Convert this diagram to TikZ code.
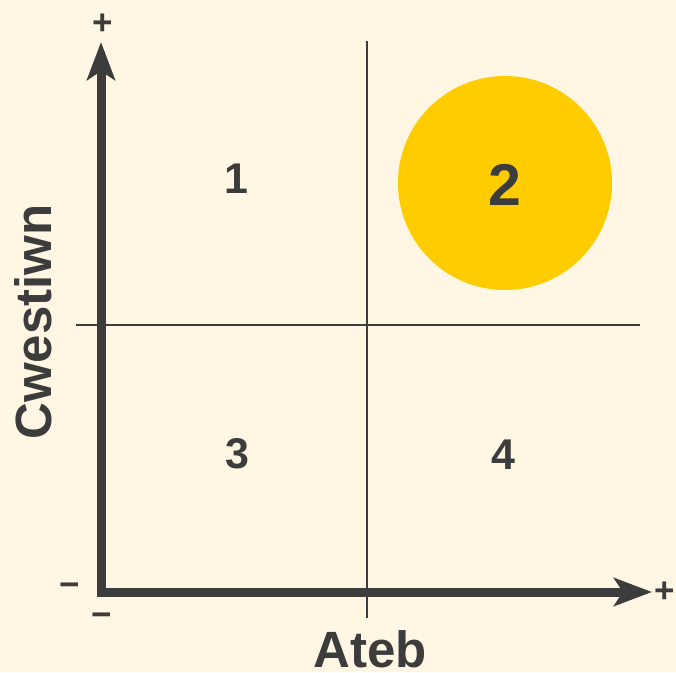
\documentclass[tikz,border=0pt]{standalone}
\usepackage{fontspec}
\setmainfont{Liberation Sans}
\usetikzlibrary{arrows.meta}
\definecolor{bgcream}{HTML}{FFF6E3}
\definecolor{ink}{HTML}{3C3C3C}
\definecolor{sun}{HTML}{FFCC00}

\begin{document}
\begin{tikzpicture}[x=1pt,y=-1pt,line join=miter,
    axislabel/.style={font=\fontsize{51}{51}\selectfont\bfseries,text=ink,inner sep=0pt,anchor=base},
    quadnum/.style={font=\fontsize{43}{43}\selectfont\bfseries,text=ink,inner sep=0pt,anchor=base},
    signmark/.style={font=\fontsize{35}{35}\selectfont\bfseries,text=ink,inner sep=0pt}]
  \useasboundingbox[fill=bgcream] (0,0) rectangle (676,672);
  \coordinate (O) at (101,592);
  \coordinate (Y) at (101,42);
  \coordinate (X) at (652,592);
  \coordinate (T) at (367,41);
  \coordinate (B) at (367,618);
  \coordinate (L) at (76,325);
  \coordinate (R) at (640,325);
  % quadrant grid
  \draw[ink,line width=2pt] (T) -- (B);
  \draw[ink,line width=2pt] (L) -- (R);
  \fill[sun] (505,183) circle (107);
  % axes
  \draw[ink,line width=9pt,{Stealth[length=38pt,width=28pt,inset=9pt]}-{Stealth[length=38pt,width=28pt,inset=9pt]}] (Y) -- (O) -- (X);
  \node[signmark] (ytop) at (103,24) {+};
  \node[signmark] (xend) at (665,592) {+};
  \node[signmark] (ybot) at (70,590) {−};
  \node[signmark] (xbeg) at (102,620) {−};
  % labels
  \node[quadnum] (q1) at (236,193) {1};
  \node[quadnum,font=\fontsize{59}{59}\selectfont\bfseries] (q2) at (505,205) {2};
  \node[quadnum] (q3) at (237,468) {3};
  \node[quadnum] (q4) at (503,469) {4};
  \node[axislabel] (xlab) at (370,667) {Ateb};
  \node[axislabel,rotate=90] (ylab) at (51,322) {Cwestiwn};
\end{tikzpicture}
\end{document}
